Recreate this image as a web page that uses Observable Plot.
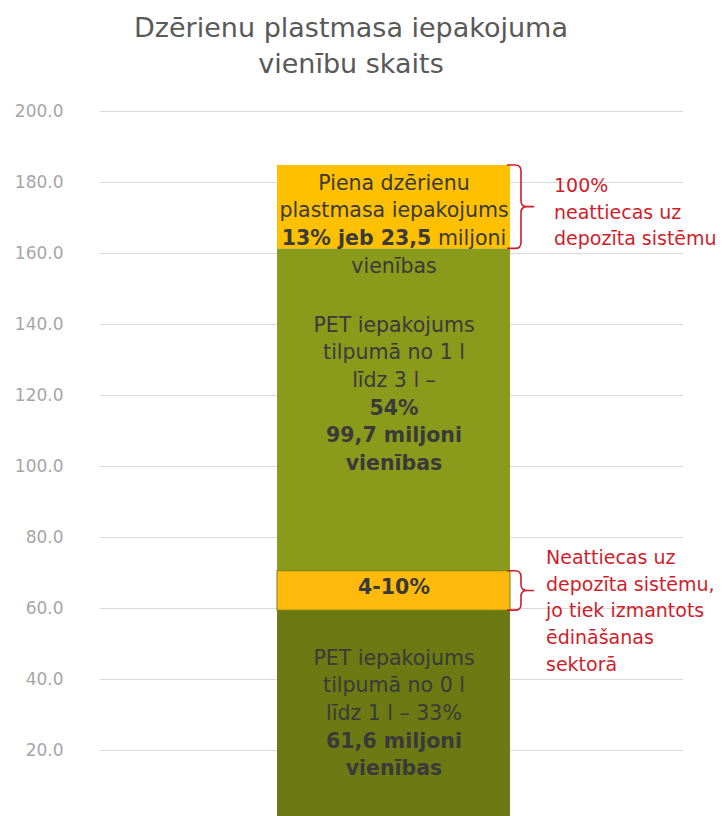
<!DOCTYPE html>
<html>
<head>
<meta charset="utf-8">
<script src="https://cdn.jsdelivr.net/npm/d3@7"></script>
<script src="https://cdn.jsdelivr.net/npm/@observablehq/plot@0.6"></script>
<style>
  html, body { margin: 0; padding: 0; background: #fff; overflow: hidden; }
  #title {
    box-sizing: border-box; height: 90px; width: 702px; padding-top: 10px;
    font-family: "DejaVu Sans", sans-serif; font-size: 27px; line-height: 36px;
    color: #595959; text-align: center;
  }
</style>
</head>
<body>
<div id="title">Dzērienu plastmasa iepakojuma<br>vienību skaits</div>
<div id="chart"></div>
<script>
// ---- data ----
const categoryName = "Dzērienu plastmasa iepakojums";
const segmentNames = ["PET 0–1 l", "PET 1–3 l", "Piena dzērienu iepakojums"];
const segmentValues = [61.6, 99.7, 23.5];
const segmentLabels = [
  "PET iepakojums\ntilpumā no 0 l\nlīdz 1 l – 33%\n*61,6 miljoni*\n*vienības*",
  "PET iepakojums\ntilpumā no 1 l\nlīdz 3 l –\n*54%*\n*99,7 miljoni*\n*vienības*",
  "Piena dzērienu\nplastmasa iepakojums\n*13% jeb 23,5* miljoni\nvienības"
];
const cateringRange = [59.4, 70.5];
const cateringLabel = "4-10%";
const noteTexts = [
  "100%\nneattiecas uz\ndepozīta sistēmu",
  "Neattiecas uz\ndepozīta sistēmu,\njo tiek izmantots\nēdināšanas\nsektorā"
];
const yTicks = [20, 40, 60, 80, 100, 120, 140, 160, 180, 200];

// ---- styles ----
const segmentColors = ["#6b7a12", "#8a9a1b", "#ffc000"];
const labelShift = [-1, -34, 15];
const red = "#cf1d2b";
const textDark = "#3a3a3a";

// ---- derived ----
const ends = Array.from(d3.cumsum(segmentValues));
const starts = ends.map((e, i) => e - segmentValues[i]);
const mids = ends.map((e, i) => e - segmentValues[i] / 2);
const table = segmentNames.map((s, i) => ({category: categoryName, segment: s, value: segmentValues[i]}));
const bracketRanges = [[starts[2], ends[2]], cateringRange];

function bracketMark(index, scales, values, dimensions, context) {
  const x = scales.x, y = scales.y;
  const bw = typeof x.bandwidth === "function" ? x.bandwidth() : (x.bandwidth || 0);
  const x0 = x(categoryName) + bw;
  const xv = x0 + 11, xt = x0 + 24, r = 6;
  const g = d3.create("svg:g").attr("fill", "none").attr("stroke", red).attr("stroke-width", 1.6);
  for (const [lo, hi] of bracketRanges) {
    const yt = y(hi), yb = y(lo), ym = (yt + yb) / 2;
    g.append("path").attr("d",
      `M${x0 - 3},${yt} H${xv - r} Q${xv},${yt} ${xv},${yt + r} V${ym - r} Q${xv},${ym} ${xv + r},${ym} H${xt}` +
      ` M${xv + r},${ym} Q${xv},${ym} ${xv},${ym + r} V${yb - r} Q${xv},${yb} ${xv - r},${yb} H${x0 - 3}`);
  }
  return g.node();
}

const plot = Plot.plot({
  width: 722,
  height: 726,
  marginLeft: 100,
  marginRight: 39,
  marginTop: 21,
  marginBottom: 0,
  style: {fontFamily: "DejaVu Sans, sans-serif", background: "#fff"},
  x: {domain: [categoryName], range: [277, 510], padding: 0, axis: null},
  y: {domain: [0, 200], range: [731, 21]},
  color: {domain: segmentNames, range: segmentColors},
  marks: [
    Plot.gridY(yTicks, {stroke: "#d9d9d9", strokeOpacity: 1, strokeWidth: 1}),
    Plot.axisY(yTicks, {tickSize: 0, tickPadding: 37, tickFormat: d => d.toFixed(1), fontSize: 17, fill: "#a6a6a6", label: null}),
    Plot.barY(table, {x: "category", y: "value", fill: "segment"}),
    ...segmentLabels.map((lab, i) => Plot.text([i], {
      x: () => categoryName, y: k => mids[k], text: k => segmentLabels[k],
      dy: labelShift[i], fontSize: 20.5, lineHeight: 1.35, fill: textDark
    })),
    Plot.barY([cateringRange], {x: () => categoryName, y1: d => d[0], y2: d => d[1],
      fill: "#ffba0c", stroke: "#7d7f17", strokeWidth: 1}),
    Plot.text([cateringLabel], {x: () => categoryName, y: () => d3.mean(cateringRange), text: d => d,
      dy: -3, fontSize: 20.5, fontWeight: "bold", fill: textDark}),
    Plot.text([noteTexts[0]], {x: () => categoryName, y: () => mids[2], text: d => d,
      textAnchor: "start", dx: 160, dy: 3, fontSize: 19, lineHeight: 1.4, fill: red}),
    Plot.text([noteTexts[1]], {x: () => categoryName, y: () => d3.mean(cateringRange), text: d => d,
      textAnchor: "start", dx: 152, dy: 18, fontSize: 19, lineHeight: 1.4, fill: red}),
    bracketMark
  ]
});

// bold spans marked with *...*
for (const el of plot.querySelectorAll("text, tspan")) {
  if (el.children.length) continue;
  const s = el.textContent;
  if (!s.includes("*")) continue;
  el.textContent = "";
  s.split("*").forEach((part, k) => {
    if (!part) return;
    const t = document.createElementNS("http://www.w3.org/2000/svg", "tspan");
    if (k % 2 === 1) t.setAttribute("font-weight", "bold");
    t.textContent = part;
    el.appendChild(t);
  });
}

document.getElementById("chart").appendChild(plot);
</script>
</body>
</html>
